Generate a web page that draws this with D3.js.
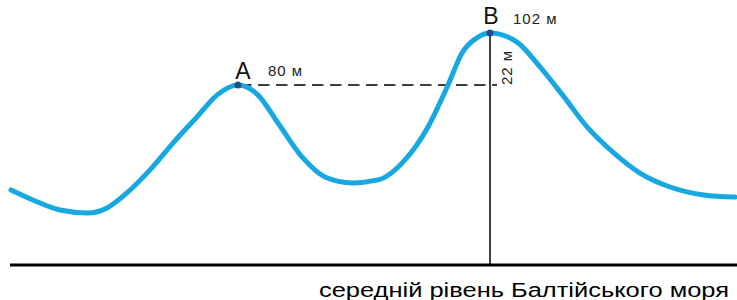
<!DOCTYPE html>
<html>
<head>
<meta charset="utf-8">
<script src="https://cdn.jsdelivr.net/npm/d3@7"></script>
<style>
  body { margin: 0; background: #fff; }
  svg { display: block; font-family: "Liberation Sans", Arial, sans-serif; }
</style>
</head>
<body>
<div id="chart"></div>
<script>
// terrain profile: distance (arbitrary units) and elevation above sea level (m)
const distance = [1, 23, 50, 78, 97, 117, 140, 163, 187, 207, 228, 248, 268, 292, 315, 342,
  368, 395, 418, 438, 452, 468, 480, 507, 530, 554, 577, 604, 630, 660, 694, 725];
const elevation = [33.0, 28.6, 24.2, 22.9, 25.1, 31.7, 41.8, 53.6, 65.1, 74.7, 79.1, 74.7, 62.4, 47.5, 38.7, 36.1,
  37.4, 46.2, 60.7, 79.1, 93.2, 100.2, 102, 98.0, 87.1, 73.9, 60.7, 49.2, 40.4, 34.3, 30.8, 29.9];

const pointNames = ['A', 'B'];
const pointDist = [228, 480];
const pointElev = [79.1, 102];
const pointLabels = ['80 м', '102 м'];
const diffLabel = '22 м';
const seaLabel = 'середній рівень Балтійського моря';

const W = 737, H = 300;

const svg = d3.select('#chart').append('svg')
  .attr('width', W)
  .attr('height', H);

const x = d3.scaleLinear().domain([0, 727]).range([10, 737]);
const y = d3.scaleLinear().domain([0, 102]).range([265, 33]);

const profile = distance.map((d, i) => ({d, e: elevation[i]}));

// sea level
svg.append('line')
  .attr('x1', x(0)).attr('x2', x(727))
  .attr('y1', y(0)).attr('y2', y(0))
  .attr('stroke', '#000')
  .attr('stroke-width', 3);

svg.append('text')
  .attr('x', 319)
  .attr('y', 297)
  .attr('textLength', 410)
  .attr('lengthAdjust', 'spacingAndGlyphs')
  .style('font-size', '20px')
  .style('fill', '#000')
  .text(seaLabel);

// vertical from B down to sea level
svg.append('line')
  .attr('x1', x(pointDist[1])).attr('x2', x(pointDist[1]))
  .attr('y1', y(pointElev[1]) - 3).attr('y2', y(0))
  .attr('stroke', '#000')
  .attr('stroke-width', 1.5);

// dashed level of A
svg.append('line')
  .attr('x1', x(pointDist[0]) + 2).attr('x2', x(pointDist[1]) + 7)
  .attr('y1', y(pointElev[0])).attr('y2', y(pointElev[0]))
  .attr('stroke', '#000')
  .attr('stroke-width', 1.5)
  .attr('stroke-dasharray', '11.5,6.5');

// terrain
const line = d3.line()
  .x(p => x(p.d))
  .y(p => y(p.e))
  .curve(d3.curveMonotoneX);

svg.append('path')
  .datum(profile)
  .attr('d', line)
  .attr('fill', 'none')
  .attr('stroke', '#17a8e1')
  .attr('stroke-width', 5)
  .attr('stroke-linecap', 'round');

// points
svg.selectAll('.pt')
  .data(pointNames)
  .enter().append('circle')
  .attr('class', 'pt')
  .attr('cx', (d, i) => x(pointDist[i]))
  .attr('cy', (d, i) => y(pointElev[i]))
  .attr('r', 3.5)
  .attr('fill', '#1d4f8a');

const nameDx = [5, 1], nameDy = [-6, -9];
svg.selectAll('.name')
  .data(pointNames)
  .enter().append('text')
  .attr('class', 'name')
  .attr('x', (d, i) => x(pointDist[i]) + nameDx[i])
  .attr('y', (d, i) => y(pointElev[i]) + nameDy[i])
  .attr('text-anchor', 'middle')
  .style('font-size', '23px')
  .style('fill', '#111')
  .text(d => d);

const valDx = [30, 23], valDy = [-9, -9];
svg.selectAll('.val')
  .data(pointLabels)
  .enter().append('text')
  .attr('class', 'val')
  .attr('x', (d, i) => x(pointDist[i]) + valDx[i])
  .attr('y', (d, i) => y(pointElev[i]) + valDy[i])
  .style('font-size', '15px')
  .style('letter-spacing', '1px')
  .style('fill', '#222')
  .text(d => d);

// height difference along the vertical
svg.append('text')
  .attr('transform', `translate(${x(pointDist[1]) + 22},${y(pointElev[0])}) rotate(-90)`)
  .style('font-size', '15px')
  .style('letter-spacing', '1px')
  .style('fill', '#222')
  .text(diffLabel);
</script>
</body>
</html>
